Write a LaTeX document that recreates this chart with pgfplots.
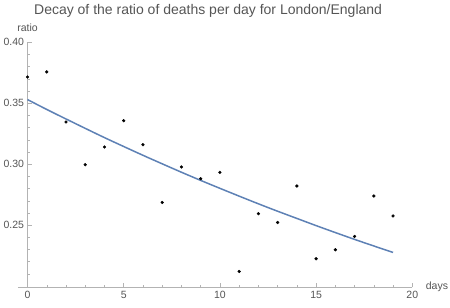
\documentclass[border=0pt]{standalone}
\usepackage{pgfplots}
\pgfplotsset{compat=1.18}
\usepackage{fontspec}
\setmainfont{Liberation Sans}
\definecolor{fitblue}{HTML}{5E81B5}
\definecolor{axgray}{HTML}{B3B3B3}
\definecolor{txtgray}{HTML}{555555}
\begin{document}
\begin{tikzpicture}
\begin{axis}[
  scale only axis, width=394.4pt, height=245pt,
  xmin=-0.5, xmax=20, ymin=0.199, ymax=0.40,
  axis x line=bottom, axis y line=middle,
  axis line style={axgray, line width=0.6pt, -},
  xtick={0,5,10,15,20}, minor x tick num=4,
  ytick={0.25,0.30,0.35,0.40},
  minor ytick={0.21,0.22,0.23,0.24,0.26,0.27,0.28,0.29,0.31,0.32,0.33,0.34,0.36,0.37,0.38,0.39},
  tick align=inside, major tick length=4.5pt, minor tick length=2.5pt,
  every tick/.style={axgray, line width=0.5pt},
  hide obscured x ticks=false, hide obscured y ticks=false,
  /pgf/number format/assume math mode=true,
  yticklabel style={/pgf/number format/.cd, fixed, fixed zerofill, precision=2},
  tick label style={font=\fontsize{10.5}{12}\selectfont, text=txtgray},
  xlabel={days}, ylabel={ratio},
  every axis x label/.style={at={(rel axis cs:1,0)}, anchor=base west, xshift=10pt, yshift=-2.5pt, font=\fontsize{10.5}{12}\selectfont, text=txtgray},
  every axis y label/.style={at={(rel axis cs:0.02439,1)}, anchor=base, yshift=10.8pt, font=\fontsize{10.5}{12}\selectfont, text=txtgray},
  title={Decay of the ratio of deaths per day for London/England},
  every axis title/.style={at={(rel axis cs:0.5,1)}, anchor=base, yshift=27.5pt, xshift=-7pt, font=\fontsize{14}{16}\selectfont, text=txtgray},
  clip=false,
]
\addplot[fitblue, line width=1.5pt, smooth] coordinates {
(0,0.3530) (1,0.3449) (2,0.3371) (3,0.3294) (4,0.3218) (5,0.3145) (6,0.3073)
(7,0.3003) (8,0.2934) (9,0.2867) (10,0.2802) (11,0.2738) (12,0.2675) (13,0.2614)
(14,0.2555) (15,0.2496) (16,0.2439) (17,0.2383) (18,0.2329) (19,0.2276)
};
\addplot[only marks, mark=*, mark size=1.4pt, black] coordinates {
(0,0.3715) (1,0.3757) (2,0.3346) (3,0.2996) (4,0.3141) (5,0.3357) (6,0.3160)
(7,0.2686) (8,0.2977) (9,0.2881) (10,0.2933) (11,0.2120) (12,0.2594) (13,0.2522)
(14,0.2821) (15,0.2224) (16,0.2298) (17,0.2407) (18,0.2739) (19,0.2575)
};
\end{axis}
\pgfresetboundingbox
\path ([xshift=-17.9pt,yshift=-20.7pt]current axis.south west) rectangle ([xshift=37.7pt,yshift=42.3pt]current axis.north east);
\end{tikzpicture}
\end{document}
